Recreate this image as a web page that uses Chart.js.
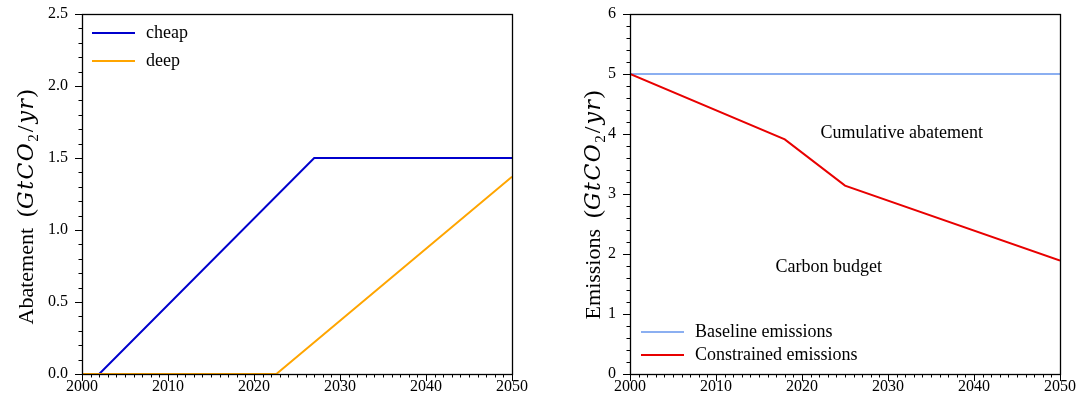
<!DOCTYPE html>
<html>
<head>
<meta charset="utf-8">
<script src="https://cdn.jsdelivr.net/npm/chart.js@4"></script>
<style>
  html, body { margin: 0; padding: 0; background: #fff; }
  #wrap { display: flex; width: 1084px; height: 399px; }
</style>
</head>
<body>
<div id="wrap">
  <canvas id="abatement" width="542" height="399"></canvas>
  <canvas id="emissions" width="542" height="399"></canvas>
</div>
<script>
const SERIF = "'Liberation Serif', 'Times New Roman', serif";
const MATH = "'DejaVu Serif', serif";

// left panel - abatement per technology
const cheapYears = [2000, 2002, 2027, 2050];
const cheapValues = [0, 0, 1.5, 1.5];
const deepYears = [2000, 2022.6, 2050];
const deepValues = [0, 0, 1.37];

// right panel - emissions
const baselineYears = [2000, 2050];
const baselineValues = [5, 5];
const constrainedYears = [2000, 2018, 2025, 2050];
const constrainedValues = [5, 3.91, 3.14, 1.89];

// tick labels
const yearTicks = [2000, 2010, 2020, 2030, 2040, 2050];
const abatementTicks = [0, 0.5, 1.0, 1.5, 2.0, 2.5];
const emissionTicks = [0, 1, 2, 3, 4, 5, 6];

// text labels on the emissions panel
const notes = ['Cumulative abatement', 'Carbon budget'];
const noteYears = [2031.6, 2023.1];
const noteValues = [4.02, 1.78];

Chart.defaults.font.family = SERIF;
Chart.defaults.color = '#000';

const pts = (xs, ys) => xs.map((x, i) => ({ x: x, y: ys[i] }));

function isMajor(v, step) {
    return Math.abs(v / step - Math.round(v / step)) < 1e-6;
}

// y label with the math part in italics, rotated
function drawTitle(ctx, cx, cy, parts) {
    ctx.save();
    ctx.translate(cx, cy);
    ctx.rotate(-Math.PI / 2);
    ctx.textBaseline = 'alphabetic';
    ctx.fillStyle = '#000';
    const widthOf = p => {
        ctx.font = p.font;
        ctx.letterSpacing = p.ls || '0px';
        return ctx.measureText(p.text).width;
    };
    let w = 0;
    parts.forEach(p => { w += widthOf(p); });
    let x = -w / 2;
    parts.forEach(p => {
        const pw = widthOf(p);
        ctx.fillText(p.text, x, p.dy || 0);
        x += pw;
    });
    ctx.letterSpacing = '0px';
    ctx.restore();
}

// box, ticks (major + minor, pointing out), legend, notes, axis title
const frame = {
    id: 'frame',
    afterDraw(chart, args, opts) {
        const ctx = chart.ctx, a = chart.chartArea;
        const xs = chart.scales.x, ys = chart.scales.y;
        ctx.save();
        ctx.strokeStyle = '#000';
        ctx.lineWidth = 1;
        ctx.beginPath();
        for (let v = xs.min; v <= xs.max + 1e-9; v += opts.xMinor) {
            const px = Math.round(xs.getPixelForValue(v)) + 0.5;
            const len = isMajor(v - xs.min, opts.xMajor) ? 7 : 3.5;
            ctx.moveTo(px, a.bottom);
            ctx.lineTo(px, a.bottom + len);
        }
        for (let v = ys.min; v <= ys.max + 1e-9; v += opts.yMinor) {
            const py = Math.round(ys.getPixelForValue(v)) + 0.5;
            const len = isMajor(v, opts.yMajor) ? 7 : 3.5;
            ctx.moveTo(a.left, py);
            ctx.lineTo(a.left - len, py);
        }
        ctx.stroke();
        ctx.lineWidth = 1.3;
        ctx.strokeRect(Math.round(a.left) + 0.5, Math.round(a.top) + 0.5,
            Math.round(a.right - a.left), Math.round(a.bottom - a.top));

        // legend
        ctx.font = '18px ' + SERIF;
        ctx.textBaseline = 'middle';
        ctx.fillStyle = '#000';
        chart.data.datasets.forEach((ds, i) => {
            const y = opts.legendY + i * opts.legendGap;
            ctx.strokeStyle = ds.borderColor;
            ctx.lineWidth = ds.borderWidth;
            ctx.beginPath();
            ctx.moveTo(opts.legendX, y);
            ctx.lineTo(opts.legendX + 43, y);
            ctx.stroke();
            ctx.fillText(ds.label, opts.legendX + 54, y);
        });

        // notes
        if (opts.notes) {
            ctx.textAlign = 'center';
            opts.notes.forEach((t, i) => {
                ctx.fillText(t, xs.getPixelForValue(noteYears[i]), ys.getPixelForValue(noteValues[i]));
            });
        }
        ctx.restore();

        drawTitle(ctx, opts.titleX, opts.titleY, [
            { text: opts.title + '  ', font: '22px ' + SERIF },
            { text: '(', font: '24px ' + SERIF },
            { text: 'GtCO', font: 'italic 22px ' + MATH, ls: '1.5px' },
            { text: '2', font: '15px ' + SERIF, dy: 5, ls: '2px' },
            { text: '/', font: '24px ' + SERIF, ls: '2px' },
            { text: 'yr', font: 'italic 22px ' + MATH, ls: '1.5px' },
            { text: ')', font: '24px ' + SERIF }
        ]);
    }
};

function makeScales(yMax, yTicks, yWidth, yFmt) {
    return {
        x: {
            type: 'linear', min: 2000, max: 2050,
            afterBuildTicks: s => { s.ticks = yearTicks.map(v => ({ value: v })); },
            ticks: { callback: v => String(v), font: { size: 16 }, padding: 3, maxRotation: 0, autoSkip: false },
            grid: { display: false, drawTicks: false },
            border: { display: false },
            afterFit: s => { s.height = 25; s.paddingLeft = 0; s.paddingRight = 0; }
        },
        y: {
            type: 'linear', min: 0, max: yMax,
            afterBuildTicks: s => { s.ticks = yTicks.map(v => ({ value: v })); },
            ticks: { callback: yFmt, font: { size: 16 }, padding: 14, autoSkip: false },
            grid: { display: false, drawTicks: false },
            border: { display: false },
            afterFit: s => { s.width = yWidth; s.paddingTop = 0; s.paddingBottom = 0; }
        }
    };
}

new Chart(document.getElementById('abatement'), {
    type: 'line',
    data: {
        datasets: [
            { label: 'cheap', data: pts(cheapYears, cheapValues), borderColor: '#0000cd', borderWidth: 2, pointRadius: 0, order: 2 },
            { label: 'deep', data: pts(deepYears, deepValues), borderColor: '#ffa500', borderWidth: 2, pointRadius: 0, order: 1 }
        ]
    },
    options: {
        responsive: false,
        animation: false,
        layout: { padding: { top: 14, right: 30, left: 0, bottom: 0 } },
        scales: makeScales(2.5, abatementTicks, 82, v => v.toFixed(1)),
        plugins: {
            legend: { display: false },
            tooltip: { enabled: false },
            frame: { xMinor: 1, xMajor: 10, yMinor: 0.1, yMajor: 0.5,
                legendX: 92, legendY: 33, legendGap: 28,
                title: 'Abatement', titleX: 33, titleY: 207 }
        }
    },
    plugins: [frame]
});

new Chart(document.getElementById('emissions'), {
    type: 'line',
    data: {
        datasets: [
            { label: 'Baseline emissions', data: pts(baselineYears, baselineValues), borderColor: '#6495ed', borderWidth: 1.5, pointRadius: 0, order: 2 },
            { label: 'Constrained emissions', data: pts(constrainedYears, constrainedValues), borderColor: '#e80000', borderWidth: 2, pointRadius: 0, order: 1 }
        ]
    },
    options: {
        responsive: false,
        animation: false,
        layout: { padding: { top: 14, right: 24, left: 0, bottom: 0 } },
        scales: makeScales(6, emissionTicks, 88, v => String(v)),
        plugins: {
            legend: { display: false },
            tooltip: { enabled: false },
            frame: { xMinor: 1, xMajor: 10, yMinor: 0.2, yMajor: 1,
                legendX: 99, legendY: 332, legendGap: 23,
                notes: notes,
                title: 'Emissions', titleX: 58, titleY: 205 }
        }
    },
    plugins: [frame]
});
</script>
</body>
</html>
